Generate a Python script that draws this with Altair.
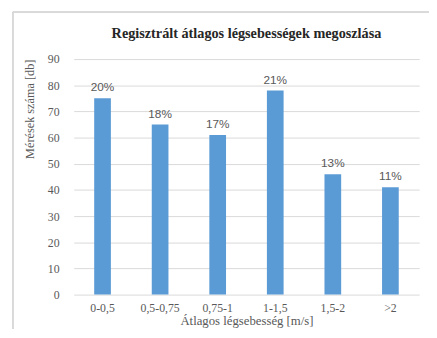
import altair as alt
import pandas as pd

categories = ["0-0,5", "0,5-0,75", "0,75-1", "1-1,5", "1,5-2", ">2"]
counts = [75, 65, 61, 78, 46, 41]
percents = ["20%", "18%", "17%", "21%", "13%", "11%"]

df = pd.DataFrame({"cat": categories, "n": counts, "pct": percents})

x = alt.X("cat:N", sort=categories,
          scale=alt.Scale(paddingInner=0.71, paddingOuter=0.355),
          axis=alt.Axis(title="Átlagos légsebesség [m/s]", labelAngle=0, ticks=False,
                        domain=False, labelPadding=8, titlePadding=1,
                        labelFont="Liberation Serif", labelFontSize=12, labelColor="#595959",
                        titleFont="Liberation Serif", titleFontSize=13, titleFontWeight="normal",
                        titleColor="#595959"))
y = alt.Y("n:Q", scale=alt.Scale(domain=[0, 90]),
          axis=alt.Axis(title="Mérések száma [db]", values=list(range(0, 91, 10)), ticks=False,
                        domain=False, labelPadding=15, titlePadding=11, titleAnchor="end",
                        grid=True, gridColor="#d9d9d9", labelFont="Liberation Serif", labelFontSize=12,
                        labelColor="#595959", titleFont="Liberation Serif", titleFontSize=12.5,
                        titleFontWeight="normal", titleColor="#595959"))

bars = alt.Chart(df).mark_bar(color="#5b9bd5").encode(x=x, y=y)
labels = alt.Chart(df).mark_text(dy=-11, font="Liberation Sans", fontSize=12, color="#595959").encode(
    x=x, y=y, text="pct:N")

frame_left = alt.Chart(df).mark_rule(stroke="#d9d9d9", strokeWidth=1, clip=False).encode(
    x=alt.value(-62), y=alt.value(-48), y2=alt.value(400))
frame_top = alt.Chart(df).mark_rule(stroke="#d9d9d9", strokeWidth=1, clip=False).encode(
    x=alt.value(-62), x2=alt.value(500), y=alt.value(-48))

chart = alt.layer(bars, labels, frame_left, frame_top).properties(
    width=352, height=240,
    title=alt.TitleParams("Regisztrált  átlagos légsebességek megoszlása", font="Liberation Serif",
                          fontSize=14.5, fontWeight="bold", color="#262626", offset=-31,
                          anchor="middle", frame="group"),
    autosize=alt.AutoSizeParams(type="none"),
    padding={"left": 67, "top": 49, "right": 10, "bottom": 32},
).configure_view(stroke=None)

chart.save("out.html", embed_options={"renderer": "svg", "actions": False})
